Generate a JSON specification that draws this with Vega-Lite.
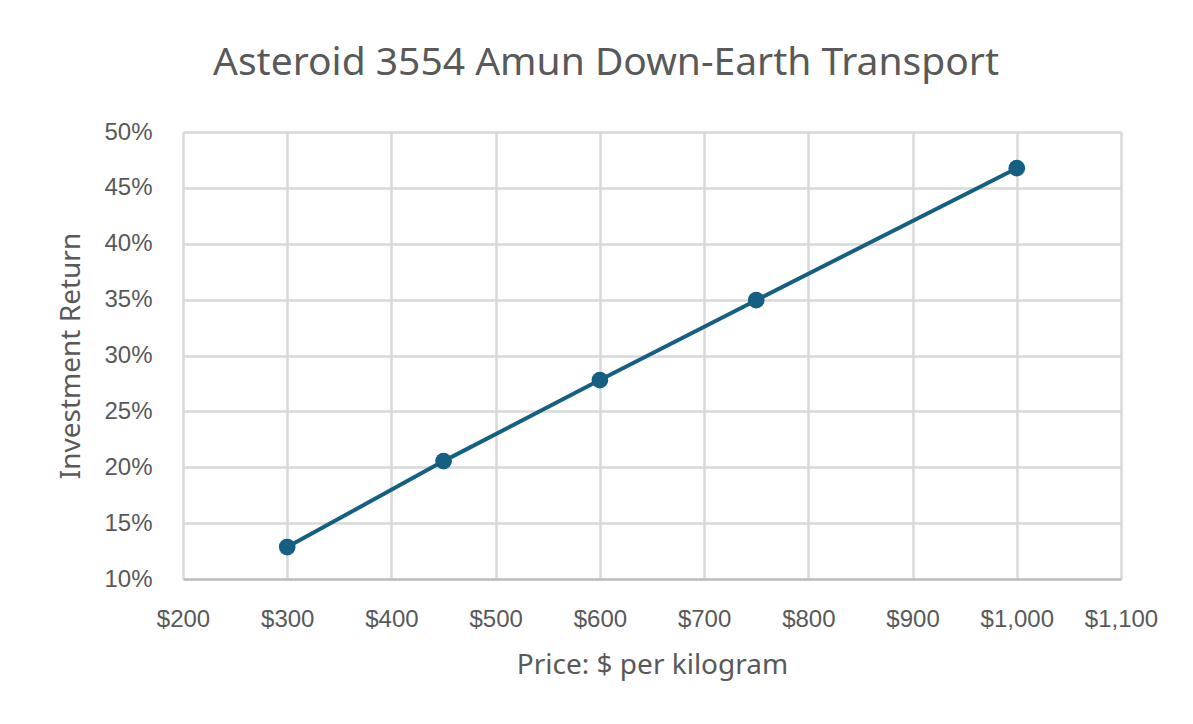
{
  "$schema": "https://vega.github.io/schema/vega-lite/v6.json",
  "autosize": {"type": "none"},
  "padding": {"left": 183, "top": 132, "right": 72, "bottom": 145},
  "width": 938,
  "height": 447,
  "background": "white",
  "title": {
    "text": "Asteroid 3554 Amun Down-Earth Transport",
    "font": "Noto Sans",
    "fontSize": 39,
    "fontWeight": "normal",
    "color": "#595959",
    "anchor": "middle",
    "frame": "group",
    "dx": -46,
    "baseline": "alphabetic",
    "offset": 6
  },
  "data": {
    "values": [
      {"price": 300, "ret": 0.1286},
      {"price": 450, "ret": 0.2055},
      {"price": 600, "ret": 0.278},
      {"price": 750, "ret": 0.3495},
      {"price": 1000, "ret": 0.4676}
    ]
  },
  "encoding": {
    "x": {
      "field": "price",
      "type": "quantitative",
      "scale": {"domain": [200, 1100], "nice": false, "zero": false},
      "axis": {
        "title": "Price: $ per kilogram",
        "format": "$,.0f",
        "values": [200, 300, 400, 500, 600, 700, 800, 900, 1000, 1100],
        "labelFlush": false,
        "labelOverlap": false
      }
    },
    "y": {
      "field": "ret",
      "type": "quantitative",
      "scale": {"domain": [0.1, 0.5], "nice": false, "zero": false},
      "axis": {
        "title": "Investment Return",
        "format": ".0%",
        "values": [0.1, 0.15, 0.2, 0.25, 0.3, 0.35, 0.4, 0.45, 0.5],
        "labelFlush": false,
        "labelOverlap": false
      }
    }
  },
  "layer": [
    {"mark": {"type": "line", "color": "#156082", "strokeWidth": 4}},
    {"mark": {"type": "point", "shape": "circle", "filled": true, "opacity": 1, "color": "#156082", "size": 280}}
  ],
  "config": {
    "view": {"stroke": null},
    "axis": {
      "grid": true,
      "gridColor": "#d9d9d9",
      "gridWidth": 2.5,
      "ticks": false,
      "domain": false,
      "labelFont": "Liberation Sans",
      "labelFontSize": 24,
      "labelColor": "#595959",
      "titleFont": "Noto Sans",
      "titleFontSize": 28,
      "titleFontWeight": "normal",
      "titleColor": "#595959"
    },
    "axisX": {"labelPadding": 28, "titlePadding": 20, "domain": true, "domainColor": "#bfbfbf", "domainWidth": 2.5},
    "axisY": {"labelPadding": 31, "titlePadding": 18}
  }
}
